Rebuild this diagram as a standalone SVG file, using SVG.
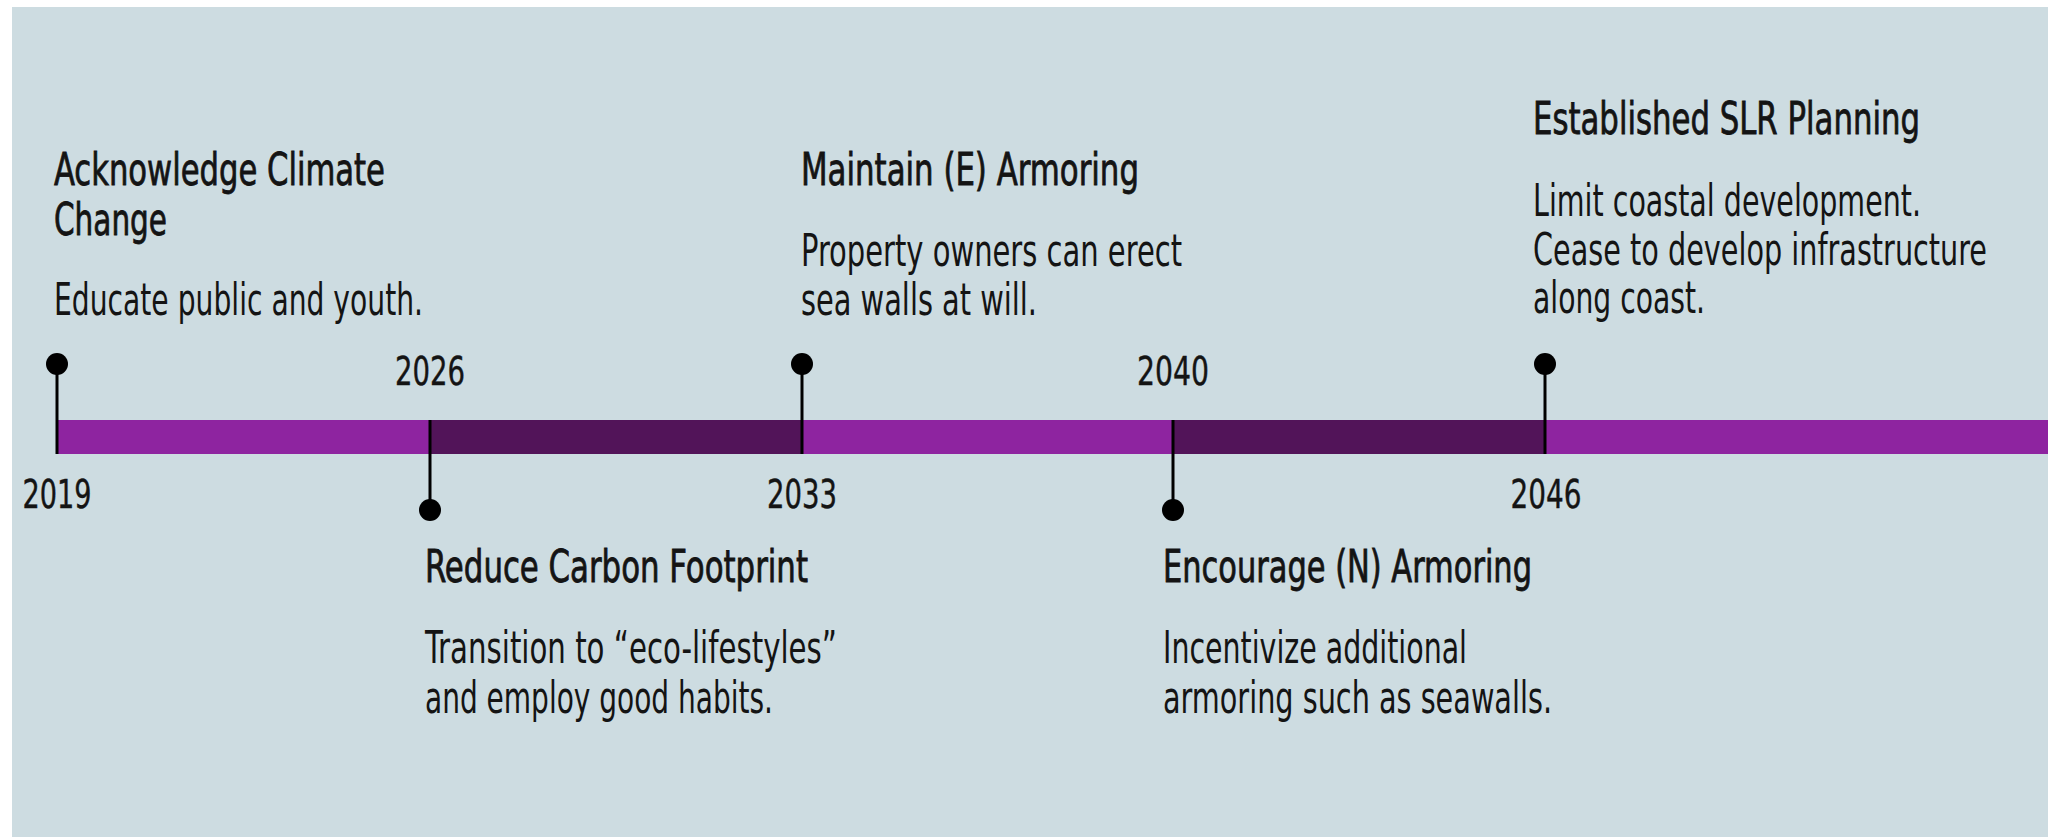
<svg xmlns="http://www.w3.org/2000/svg" width="2048" height="837" viewBox="0 0 2048 837">
  <style>
    text { font-family: "Liberation Sans Narrow", "DejaVu Sans Condensed", "Liberation Sans", sans-serif; font-stretch: condensed; fill: #141414; }
    .title { font-size: 45px; font-weight: 400; stroke: #141414; stroke-width: 0.8px; }
    .desc { font-size: 45px; font-weight: 400; }
    .year { font-size: 39px; text-anchor: middle; stroke: #141414; stroke-width: 0.4px; }
    .stem { stroke: #000; stroke-width: 3; fill: none; }
    .dot { fill: #000; }
    .bar-light { fill: #8E24A0; }
    .bar-dark { fill: #521459; }
  </style>

  <!-- page and panel -->
  <rect x="0" y="0" width="2048" height="837" fill="#ffffff"/>
  <rect x="12" y="7" width="2036" height="830" fill="#CDDCE1"/>

  <!-- timeline bar -->
  <g id="timeline">
    <rect class="bar-light" x="57" y="420" width="1991" height="34"/>
    <rect class="bar-dark" x="430" y="420" width="372" height="34"/>
    <rect class="bar-dark" x="1173" y="420" width="372" height="34"/>
  </g>

  <!-- stems linking each milestone to the bar -->
  <g id="connectors">
    <line class="stem" x1="57" y1="363" x2="57" y2="454"/>
    <line class="stem" x1="430" y1="420" x2="430" y2="510"/>
    <line class="stem" x1="802" y1="363" x2="802" y2="454"/>
    <line class="stem" x1="1173" y1="420" x2="1173" y2="510"/>
    <line class="stem" x1="1545" y1="363" x2="1545" y2="454"/>
  </g>

  <!-- text is condensed horizontally: scale(0.72 1) for copy, scale(0.78 1) for years -->
  <g id="m2019">
    <circle class="dot" cx="57" cy="364" r="11"/>
    <text class="year" transform="translate(57 508) scale(0.78 1)" textLength="88.5" lengthAdjust="spacingAndGlyphs">2019</text>
    <text class="title" transform="translate(54 185) scale(0.72 1)" textLength="459.7" lengthAdjust="spacingAndGlyphs">Acknowledge Climate</text>
    <text class="title" transform="translate(54 235) scale(0.72 1)" textLength="156.9" lengthAdjust="spacingAndGlyphs">Change</text>
    <text class="desc" transform="translate(54 315) scale(0.72 1)" textLength="512.5" lengthAdjust="spacingAndGlyphs">Educate public and youth.</text>
  </g>

  <g id="m2026">
    <circle class="dot" cx="430" cy="510" r="11"/>
    <text class="year" transform="translate(430 385) scale(0.78 1)" textLength="89.7" lengthAdjust="spacingAndGlyphs">2026</text>
    <text class="title" transform="translate(425 582) scale(0.72 1)" textLength="531.9" lengthAdjust="spacingAndGlyphs">Reduce Carbon Footprint</text>
    <text class="desc" transform="translate(425 663) scale(0.72 1)" textLength="572.2" lengthAdjust="spacingAndGlyphs">Transition to “eco-lifestyles”</text>
    <text class="desc" transform="translate(425 713) scale(0.72 1)" textLength="483.3" lengthAdjust="spacingAndGlyphs">and employ good habits.</text>
  </g>

  <g id="m2033">
    <circle class="dot" cx="802" cy="364" r="11"/>
    <text class="year" transform="translate(802 508) scale(0.78 1)" textLength="89.7" lengthAdjust="spacingAndGlyphs">2033</text>
    <text class="title" transform="translate(801 185) scale(0.72 1)" textLength="469.4" lengthAdjust="spacingAndGlyphs">Maintain (E) Armoring</text>
    <text class="desc" transform="translate(801 266) scale(0.72 1)" textLength="529.2" lengthAdjust="spacingAndGlyphs">Property owners can erect</text>
    <text class="desc" transform="translate(801 315) scale(0.72 1)" textLength="327.8" lengthAdjust="spacingAndGlyphs">sea walls at will.</text>
  </g>

  <g id="m2040">
    <circle class="dot" cx="1173" cy="510" r="11"/>
    <text class="year" transform="translate(1173 385) scale(0.78 1)" textLength="92.3" lengthAdjust="spacingAndGlyphs">2040</text>
    <text class="title" transform="translate(1163 582) scale(0.72 1)" textLength="512.5" lengthAdjust="spacingAndGlyphs">Encourage (N) Armoring</text>
    <text class="desc" transform="translate(1163 663) scale(0.72 1)" textLength="422.2" lengthAdjust="spacingAndGlyphs">Incentivize additional</text>
    <text class="desc" transform="translate(1163 713) scale(0.72 1)" textLength="540.3" lengthAdjust="spacingAndGlyphs">armoring such as seawalls.</text>
  </g>

  <g id="m2046">
    <circle class="dot" cx="1545" cy="364" r="11"/>
    <text class="year" transform="translate(1546 508) scale(0.78 1)" textLength="91" lengthAdjust="spacingAndGlyphs">2046</text>
    <text class="title" transform="translate(1533 134) scale(0.72 1)" textLength="537.5" lengthAdjust="spacingAndGlyphs">Established SLR Planning</text>
    <text class="desc" transform="translate(1533 216) scale(0.72 1)" textLength="538.9" lengthAdjust="spacingAndGlyphs">Limit coastal development.</text>
    <text class="desc" transform="translate(1533 265) scale(0.72 1)" textLength="630.6" lengthAdjust="spacingAndGlyphs">Cease to develop infrastructure</text>
    <text class="desc" transform="translate(1533 313) scale(0.72 1)" textLength="238.9" lengthAdjust="spacingAndGlyphs">along coast.</text>
  </g>
</svg>
